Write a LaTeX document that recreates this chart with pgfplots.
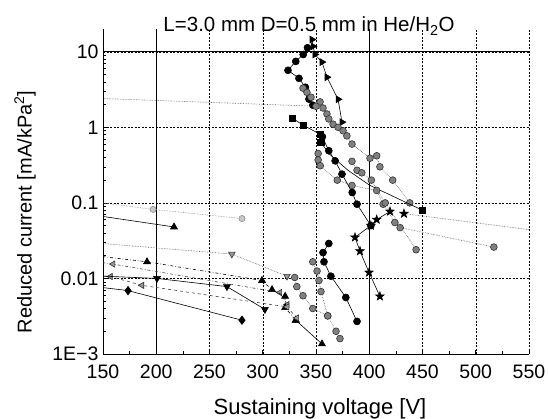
\documentclass[border=0pt]{standalone}
\usepackage{fontspec}
\setmainfont{Liberation Sans}
\usepackage{pgfplots}
\pgfplotsset{compat=1.18}

\pgfdeclareplotmark{fstar}{%
  \pgfpathmoveto{\pgfpointpolar{90}{1.25\pgfplotmarksize}}%
  \pgfpathlineto{\pgfpointpolar{126}{0.5\pgfplotmarksize}}%
  \pgfpathlineto{\pgfpointpolar{162}{1.25\pgfplotmarksize}}%
  \pgfpathlineto{\pgfpointpolar{198}{0.5\pgfplotmarksize}}%
  \pgfpathlineto{\pgfpointpolar{234}{1.25\pgfplotmarksize}}%
  \pgfpathlineto{\pgfpointpolar{270}{0.5\pgfplotmarksize}}%
  \pgfpathlineto{\pgfpointpolar{306}{1.25\pgfplotmarksize}}%
  \pgfpathlineto{\pgfpointpolar{342}{0.5\pgfplotmarksize}}%
  \pgfpathlineto{\pgfpointpolar{18}{1.25\pgfplotmarksize}}%
  \pgfpathlineto{\pgfpointpolar{54}{0.5\pgfplotmarksize}}%
  \pgfpathclose
  \pgfusepathqfillstroke}

\pgfplotsset{
  sol/.style={black, line width=0.6pt, solid},
  dot/.style={black!65, line width=0.6pt, densely dotted},
  dd/.style={black!75, line width=0.6pt, dash dot},
  dsh/.style={black!75, line width=0.6pt, dashed},
  mtr/.style={mark=triangle*, mark size=3.9pt, mark options={solid, rotate=-90, fill=black, draw=black}},
  mtu/.style={mark=triangle*, mark size=4pt, mark options={solid, fill=black, draw=black}},
  mtd/.style={mark=triangle*, mark size=4pt, mark options={solid, rotate=180, fill=black, draw=black}},
  mtdg/.style={mark=triangle*, mark size=3.8pt, mark options={solid, rotate=180, fill=black!40, draw=black!80}},
  mtlg/.style={mark=triangle*, mark size=3.6pt, mark options={solid, rotate=90, fill=black!40, draw=black!80}},
  mdia/.style={mark=diamond*, mark size=4.2pt, mark options={solid, fill=black, draw=black}},
  msq/.style={mark=square*, mark size=3.1pt, mark options={solid, fill=black, draw=black}},
  mci/.style={mark=*, mark size=3.5pt, mark options={solid, fill=black, draw=black}},
  mpat/.style={mark=*, mark size=3.4pt, mark options={solid, fill=black!50, draw=black!80, line width=0.6pt}},
  mpatl/.style={mark=*, mark size=3.1pt, mark options={solid, fill=black!22, draw=black!50, line width=0.5pt}},
  mstar/.style={mark=fstar, mark size=3.6pt, mark options={solid, fill=black, draw=black}},
}

\begin{document}
\begin{tikzpicture}
\useasboundingbox (-103pt,-65pt) rectangle (445pt,354pt);
\begin{axis}[
  name=ax,
  at={(0,0)}, anchor=south west,
  scale only axis, width=426pt, height=325pt,
  xmin=150, xmax=550,
  ymode=log, ymin=1e-3, ymax=20,
  axis x line*=bottom, axis y line*=left,
  axis line style={-, line width=0.8pt},
  xtick={150,200,250,300,350,400,450,500,550},
  xticklabels={150,200,250,300,350,400,450,500,550},
  ytick={0.001,0.01,0.1,1,10},
  yticklabels={1E−3,0.01,0.1,1,10},
  minor x tick num=1,
  grid=major,
  major grid style={black, line width=0.4pt, dash pattern=on 2pt off 1.5pt},
  tick style={black, line width=0.6pt},
  tick label style={font=\fontsize{19.5}{22}\selectfont},
  xticklabel style={yshift=-7pt},
  yticklabel style={xshift=-1pt},
  clip marker paths=true,
  xlabel={Sustaining voltage [V]},
  ylabel={Reduced current [mA/kPa\textsuperscript{2}]},
  every axis x label/.style={at={(axis description cs:0.5,0)}, xshift=4pt, yshift=-60pt, anchor=base, font=\fontsize{22}{26}\selectfont},
  every axis y label/.style={at={(axis description cs:0,0.437)}, xshift=-78pt, rotate=90, anchor=center, font=\fontsize{20}{24}\selectfont},
]
\draw[black, line width=0.5pt] (axis cs:150,10) -- (axis cs:550,10);
\draw[black, line width=0.5pt] (axis cs:200,0.001) -- (axis cs:200,20);
\draw[black, line width=0.5pt] (axis cs:400,0.001) -- (axis cs:400,20);

% ---- upper cluster ----
\addplot[sol, mtr] coordinates {(346.2,14.5) (347.2,11.8) (349,9.2) (355.6,7.3) (360.3,4.6) (370.7,2.35) (374.4,1.17)};
\addplot[sol, mci] coordinates {(342,11.3) (338,9.2) (331,7.45) (323.7,5.68) (334,4.45) (340,3.39) (343.4,2.36) (347,1.96)};
\addplot[dot, mpat] coordinates {(337.8,3.3) (341.5,2.9) (345.3,2.5) (353.8,2.17) (356.6,1.8) (360.3,1.5) (362,1.29) (366,1.1) (370.7,1.0) (375.4,0.9) (379,0.77) (383.8,0.6) (400.7,0.39) (407,0.42) (410,0.3) (422,0.2) (438,0.1)};
\addplot[dot, mpat] coordinates {(100,2.55) (350,1.9)};
\addplot[sol, msq] coordinates {(327.5,1.33) (337.8,1.07) (353.8,0.81) (354.5,0.64)};
\addplot[sol] coordinates {(354.5,0.64) (362,0.45) (380,0.27) (400.7,0.17) (450,0.08)};
\addplot[only marks, msq] coordinates {(450,0.08)};
\addplot[dot, mpat] coordinates {(352,0.45) (352,0.37) (354,0.31) (370,0.2) (383.8,0.17) (407,0.146) (413,0.096) (424,0.055) (429,0.047) (517,0.026)};
\addplot[dot, mpat] coordinates {(383.8,0.355) (388.5,0.27) (393,0.25) (402,0.2) (415,0.1) (444,0.024)};
\addplot[sol, mci] coordinates {(356,0.75) (362,0.49) (368,0.36) (374.4,0.24) (384,0.137) (388.5,0.096) (401.5,0.05)};
\addplot[sol, mstar] coordinates {(419.5,0.077) (407,0.06) (401.5,0.05) (386.6,0.035) (391.3,0.023) (399.8,0.012) (410,0.0058)};
\addplot[dot, mstar] coordinates {(432.6,0.072) (600,0.036)};

% ---- lower cluster ----
\addplot[sol, mci] coordinates {(362,0.029) (356.6,0.022) (357.5,0.0166) (364,0.0107) (378,0.0056) (388.5,0.0027)};
\addplot[dot, mpat] coordinates {(330,0.0103) (332,0.0078) (337.8,0.0059) (347,0.004) (361,0.0032)};
\addplot[dot, mpat] coordinates {(347,0.0166) (351,0.0125) (352.8,0.0094) (354.7,0.0067) (361,0.0032) (368.8,0.002) (372.5,0.0016)};

% ---- left part ----
\addplot[sol, mtu] coordinates {(100,0.084) (216.7,0.048)};
\addplot[dot, black!45, mpatl] coordinates {(100,0.123) (197,0.082) (280.5,0.062)};
\addplot[dot, mtdg] coordinates {(149,0.029) (271,0.021) (322.8,0.0107)};
\addplot[dd, mtlg] coordinates {(100,0.02) (159.4,0.0155) (316,0.0065) (323,0.0045)};
\addplot[dd, black, mtu] coordinates {(100,0.0235) (191.3,0.0166) (299.3,0.0094) (308.7,0.0071) (321,0.0058) (321,0.0041) (331,0.0028)};
\addplot[sol, mtu] coordinates {(331,0.0028) (355.6,0.00136)};
\addplot[dsh, mtlg] coordinates {(100,0.012) (157,0.0106) (186.6,0.0081) (322.8,0.0042) (332,0.003)};
\addplot[sol, mtd] coordinates {(100,0.0115) (200.7,0.01) (266.4,0.0078) (302,0.0039)};
\addplot[sol, mdia] coordinates {(100,0.0092) (173.5,0.0069) (280.5,0.0028)};
\end{axis}
\node[anchor=base, font=\fontsize{20.5}{24}\selectfont] at ([xshift=-7pt, yshift=-3pt]ax.north) {L=3.0 mm D=0.5 mm in He/H\textsubscript{2}O};
\end{tikzpicture}
\end{document}
